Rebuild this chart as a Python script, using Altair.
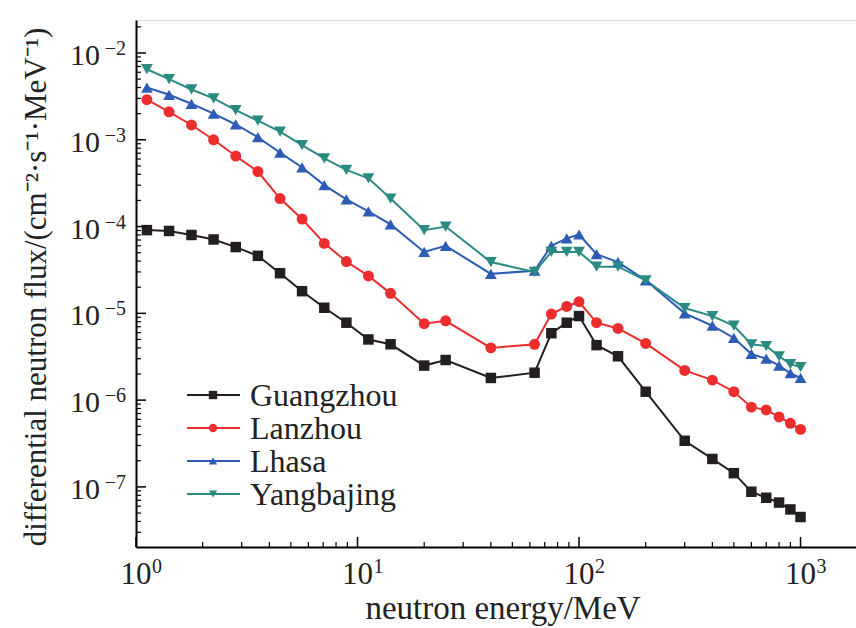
import altair as alt
import pandas as pd

energy = [1.12, 1.41, 1.78, 2.24, 2.82, 3.55, 4.47, 5.62, 7.08, 8.91, 11.2, 14.1, 20, 25,
          40, 63, 75, 88, 100, 120, 150, 200, 300, 400, 500, 600, 700, 800, 900, 1000]

guangzhou = [9.1e-5, 8.9e-5, 8.0e-5, 7.1e-5, 5.8e-5, 4.6e-5, 2.9e-5, 1.8e-5, 1.16e-5, 7.8e-6,
             5.0e-6, 4.4e-6, 2.5e-6, 2.9e-6, 1.8e-6, 2.07e-6, 5.9e-6, 7.8e-6, 9.3e-6, 4.3e-6,
             3.2e-6, 1.25e-6, 3.4e-7, 2.1e-7, 1.44e-7, 8.8e-8, 7.5e-8, 6.6e-8, 5.5e-8, 4.5e-8]
lanzhou = [2.9e-3, 2.1e-3, 1.48e-3, 1.0e-3, 6.5e-4, 4.3e-4, 2.1e-4, 1.22e-4, 6.4e-5, 3.95e-5,
           2.7e-5, 1.7e-5, 7.6e-6, 8.2e-6, 4.0e-6, 4.4e-6, 9.8e-6, 1.2e-5, 1.36e-5, 7.8e-6,
           6.7e-6, 4.5e-6, 2.2e-6, 1.7e-6, 1.25e-6, 8.3e-7, 7.7e-7, 6.4e-7, 5.4e-7, 4.6e-7]
lhasa = [4.0e-3, 3.3e-3, 2.6e-3, 2.0e-3, 1.5e-3, 1.07e-3, 7.1e-4, 4.8e-4, 3.0e-4, 2.06e-4,
         1.5e-4, 1.06e-4, 5.1e-5, 6.0e-5, 2.85e-5, 3.1e-5, 6.0e-5, 7.3e-5, 8.1e-5, 4.8e-5,
         3.9e-5, 2.4e-5, 1.0e-5, 7.2e-6, 5.2e-6, 3.4e-6, 3.0e-6, 2.5e-6, 2.04e-6, 1.8e-6]
yangbajing = [6.5e-3, 5.0e-3, 3.8e-3, 3.0e-3, 2.2e-3, 1.66e-3, 1.24e-3, 8.7e-4, 6.1e-4, 4.5e-4,
              3.6e-4, 2.1e-4, 9.1e-5, 1.0e-4, 3.9e-5, 3.0e-5, 5.1e-5, 5.1e-5, 5.1e-5, 3.45e-5,
              3.45e-5, 2.4e-5, 1.15e-5, 9.3e-6, 7.2e-6, 4.4e-6, 4.2e-6, 3.2e-6, 2.6e-6, 2.4e-6]

names = ["Guangzhou", "Lanzhou", "Lhasa", "Yangbajing"]
series = [guangzhou, lanzhou, lhasa, yangbajing]
colors = ["#231f20", "#ec2d2d", "#2d5cb4", "#2b8a82"]
shapes = ["square", "circle", "triangle-up", "triangle-down"]
sizes = [110, 120, 140, 140]

x_major = [1, 10, 100, 1000]
x_exp = ["0", "1", "2", "3"]
y_major = [1e-7, 1e-6, 1e-5, 1e-4, 1e-3, 1e-2]
y_exp = ["\u22127", "\u22126", "\u22125", "\u22124", "\u22123", "\u22122"]
x_minor = [m * 10 ** k for k in range(0, 3) for m in range(2, 10)]
y_minor = [m * 10.0 ** k for k in range(-8, -1) for m in range(2, 10) if 2.03e-8 <= m * 10.0 ** k <= 0.024]

x_title = "neutron energy/MeV"
y_title = "differential neutron flux/(cm\u207b\u00b2\u00b7s\u207b\u00b9\u00b7MeV\u207b\u00b9)"

XDOM = [1, 1780]
YDOM = [2.03e-8, 0.024]
W, H = 720, 527
FONT = "Liberation Serif"
TXT = "#222222"

rows = []
for n, s in zip(names, series):
    for e, v in zip(energy, s):
        rows.append({"site": n, "energy": e, "flux": v})
df = pd.DataFrame(rows)

xscale = alt.Scale(type="log", domain=XDOM, nice=False)
yscale = alt.Scale(type="log", domain=YDOM, nice=False)

xaxis = alt.Axis(ticks=False, labels=False, grid=False, domainColor="black", domainWidth=2, title=None)
yaxis = alt.Axis(ticks=False, labels=False, grid=False, domainColor="black", domainWidth=2, title=None)

color_scale = alt.Scale(domain=names, range=colors)

base = alt.Chart(df)
lines = base.mark_line(strokeWidth=2, clip=True).encode(
    x=alt.X("energy:Q", scale=xscale, axis=xaxis),
    y=alt.Y("flux:Q", scale=yscale, axis=yaxis),
    color=alt.Color("site:N", scale=color_scale, legend=None),
    order=alt.Order("energy:Q"),
)
layers = [lines]
for n, c, sh, sz in zip(names, colors, shapes, sizes):
    layers.append(
        alt.Chart(df[df.site == n]).mark_point(filled=True, opacity=1, color=c, shape=sh, size=sz, clip=True).encode(
            x=alt.X("energy:Q", scale=xscale),
            y=alt.Y("flux:Q", scale=yscale),
        )
    )

# inward ticks
xt_major = alt.Chart(pd.DataFrame({"v": x_major})).mark_rule(color="black", strokeWidth=1.5).encode(
    x=alt.X("v:Q", scale=xscale), y=alt.value(H), y2=alt.value(H - 10))
xt_minor = alt.Chart(pd.DataFrame({"v": x_minor})).mark_rule(color="black", strokeWidth=1.2).encode(
    x=alt.X("v:Q", scale=xscale), y=alt.value(H), y2=alt.value(H - 5))
yt_major = alt.Chart(pd.DataFrame({"v": y_major})).mark_rule(color="black", strokeWidth=1.5).encode(
    y=alt.Y("v:Q", scale=yscale), x=alt.value(0), x2=alt.value(10))
yt_minor = alt.Chart(pd.DataFrame({"v": y_minor})).mark_rule(color="black", strokeWidth=1.2).encode(
    y=alt.Y("v:Q", scale=yscale), x=alt.value(0), x2=alt.value(5))
layers += [xt_major, xt_minor, yt_major, yt_minor]

# tick labels: "10" with superscript exponent
xl = pd.DataFrame({"v": x_major, "b": ["10"] * 4, "e": x_exp})
yl = pd.DataFrame({"v": y_major, "b": ["10"] * 6, "e": y_exp})
layers.append(alt.Chart(xl).mark_text(font=FONT, fontSize=31, color=TXT, align="center", baseline="alphabetic").encode(
    x=alt.X("v:Q", scale=xscale), y=alt.value(H + 37), text="b:N"))
layers.append(alt.Chart(xl).mark_text(font=FONT, fontSize=20, color=TXT, align="left", baseline="alphabetic", dx=16).encode(
    x=alt.X("v:Q", scale=xscale), y=alt.value(H + 26), text="e:N"))
layers.append(alt.Chart(yl).mark_text(font=FONT, fontSize=30, color=TXT, align="right", baseline="alphabetic", dy=12).encode(
    y=alt.Y("v:Q", scale=yscale), x=alt.value(-36), text="b:N"))
layers.append(alt.Chart(yl).mark_text(font=FONT, fontSize=20, color=TXT, align="right", baseline="alphabetic", dy=2).encode(
    y=alt.Y("v:Q", scale=yscale), x=alt.value(-10), text="e:N"))

# axis titles
layers.append(alt.Chart(pd.DataFrame({"t": [x_title]})).mark_text(
    font=FONT, fontSize=33, color=TXT, align="center", baseline="alphabetic").encode(
    x=alt.value(367), y=alt.value(599), text="t:N"))
layers.append(alt.Chart(pd.DataFrame({"t": [y_title]})).mark_text(
    font=FONT, fontSize=31, color=TXT, align="center", baseline="alphabetic", angle=270).encode(
    x=alt.value(-90), y=alt.value(267), text="t:N"))

# legend
leg_y0, leg_dy = 375, 33
for i, (n, c, sh) in enumerate(zip(names, colors, shapes)):
    ly = leg_y0 + leg_dy * i
    d = pd.DataFrame({"site": [n]})
    layers.append(alt.Chart(d).mark_rule(color=c, strokeWidth=2).encode(
        x=alt.value(51), x2=alt.value(104), y=alt.value(ly)))
    layers.append(alt.Chart(d).mark_point(filled=True, opacity=1, color=c, shape=sh, size=70).encode(
        x=alt.value(77), y=alt.value(ly)))
    layers.append(alt.Chart(d).mark_text(align="left", baseline="alphabetic", font=FONT, fontSize=32,
                                         color=TXT).encode(
        x=alt.value(114), y=alt.value(ly + 11), text="site:N"))

chart = alt.layer(*layers).properties(
    width=W, height=H,
    autosize=alt.AutoSizeParams(type="none"),
    padding={"left": 136, "top": 20, "right": 0, "bottom": 81},
).configure_view(stroke=None).configure(background="white")

chart.save("out.html", embed_options={"renderer": "svg", "actions": False})
